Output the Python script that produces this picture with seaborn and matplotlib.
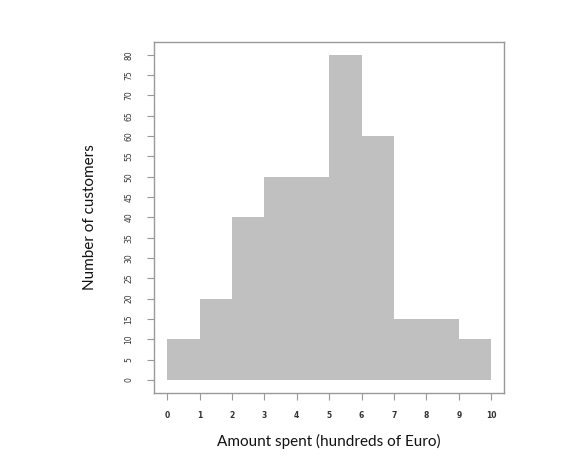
import numpy as np
import pandas as pd
import matplotlib
matplotlib.use("Agg")
import matplotlib.pyplot as plt
import seaborn as sns

bin_edges = [0, 1, 2, 3, 4, 5, 6, 7, 8, 9, 10]
counts = [10, 20, 40, 50, 50, 80, 60, 15, 15, 10]
x_ticks = list(range(0, 11))
y_ticks = list(range(0, 81, 5))

sns.set_style("white")
plt.rcParams['font.family'] = ['Lato', 'DejaVu Sans']

centers = [(bin_edges[i] + bin_edges[i + 1]) / 2 for i in range(len(counts))]
df = pd.DataFrame({"amount": centers, "n": counts})

fig = plt.figure(figsize=(5.73, 4.65), dpi=100)
ax = fig.add_axes([0.269, 0.155, 0.611, 0.755])
sns.histplot(data=df, x="amount", weights="n", bins=bin_edges, color="#c0c0c0",
             alpha=1, linewidth=0, ax=ax)

ax.set_xlim(-0.4, 10.4)
ax.set_ylim(-3.2, 83.2)
ax.set_xticks(x_ticks)
ax.set_yticks(y_ticks)
ax.set_xticklabels([str(v) for v in x_ticks], fontsize=5.5, fontweight="bold",
                   family="DejaVu Sans")
ax.set_yticklabels([str(v) for v in y_ticks], fontsize=5.5, rotation=90,
                   va="center", family="DejaVu Sans")
ax.tick_params(axis="both", which="both", direction="out", length=5, width=0.8,
               color="#999999", labelcolor="#333333", bottom=True, left=True)
ax.tick_params(axis="x", pad=8)
ax.tick_params(axis="y", pad=10)
for s in ax.spines.values():
    s.set_color("#999999")
    s.set_linewidth(1.0)

ax.set_xlabel("Amount spent (hundreds of Euro)", fontsize=11, labelpad=10, color="#111111")
ax.set_ylabel("Number of customers", fontsize=11, labelpad=20, color="#111111")

fig.savefig("out.png", dpi=100)
